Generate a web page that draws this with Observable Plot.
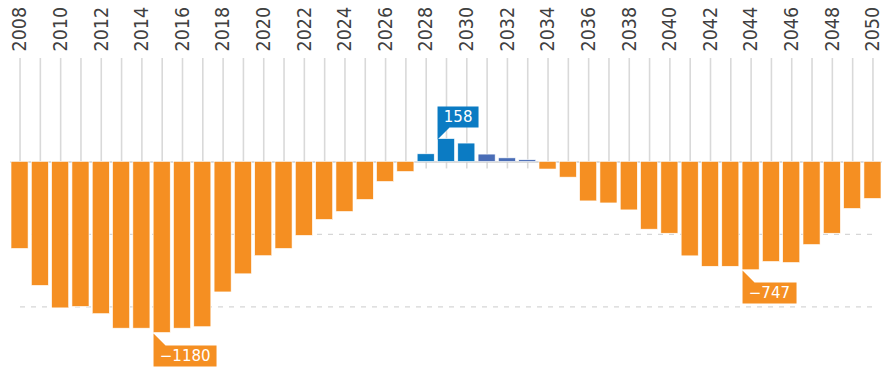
<!DOCTYPE html>
<html>
<head>
<meta charset="utf-8">
<script src="https://cdn.jsdelivr.net/npm/d3@7"></script>
<script src="https://cdn.jsdelivr.net/npm/@observablehq/plot@0.6"></script>
<style>
  body { margin: 0; background: #fff; }
  #chart svg { display: block; }
  g[aria-label="tip"] text, g[aria-label="tip"] tspan { fill: #fff; }
</style>
</head>
<body>
<div id="chart"></div>
<script>
// ---- data ----
const years = [2008, 2009, 2010, 2011, 2012, 2013, 2014, 2015, 2016, 2017,
  2018, 2019, 2020, 2021, 2022, 2023, 2024, 2025, 2026, 2027,
  2028, 2029, 2030, 2031, 2032, 2033, 2034, 2035, 2036, 2037,
  2038, 2039, 2040, 2041, 2042, 2043, 2044, 2045, 2046, 2047,
  2048, 2049, 2050];
const values = [-600, -855, -1010, -1000, -1050, -1150, -1150, -1180, -1150, -1140,
  -900, -775, -650, -600, -510, -400, -345, -262, -138, -69,
  53, 158, 127, 51, 25, 12, -52, -108, -272, -286,
  -334, -467, -495, -651, -723, -723, -747, -690, -697, -573,
  -495, -324, -255];
const kinds = ["deficit", "deficit", "deficit", "deficit", "deficit", "deficit", "deficit", "deficit", "deficit", "deficit",
  "deficit", "deficit", "deficit", "deficit", "deficit", "deficit", "deficit", "deficit", "deficit", "deficit",
  "surplus", "surplus", "surplus", "surplus2", "surplus2", "surplus2", "deficit", "deficit", "deficit", "deficit",
  "deficit", "deficit", "deficit", "deficit", "deficit", "deficit", "deficit", "deficit", "deficit", "deficit",
  "deficit", "deficit", "deficit"];
const tickYears = [2008, 2010, 2012, 2014, 2016, 2018, 2020, 2022, 2024, 2026, 2028,
  2030, 2032, 2034, 2036, 2038, 2040, 2042, 2044, 2046, 2048, 2050];
const guideValues = [-500, -1000];
const calloutYears = [2015, 2029, 2044];

// ---- table built from the arrays ----
const rows = years.map((year, i) => ({year, value: values[i], kind: kinds[i]}));
const callouts = rows.filter(d => calloutYears.includes(d.year));
const label = d => "\u00A0" + (d.value < 0 ? "\u2212" + Math.abs(d.value) : String(d.value)) + "\u00A0";

const ORANGE = "#f58f22", BLUE = "#0b7bc3", SLATE = "#4a6db6";

const tipCommon = {
  x: "year", y: "value", title: label,
  stroke: "none", pathFilter: "none",
  textPadding: 1.5, fontSize: 15, fontFamily: "DejaVu Sans",
  dx: -8.5
};

const chart = Plot.plot({
  width: 882,
  height: 376,
  marginTop: 58,
  marginBottom: 0,
  marginLeft: 10,
  marginRight: 0,
  style: {fontFamily: "'Liberation Sans Narrow', 'Arial Narrow', 'DejaVu Sans Condensed', sans-serif", background: "#fff"},
  x: {type: "band", domain: years, paddingInner: 0.16, paddingOuter: 0.05, round: false, axis: null},
  y: {domain: [-1480, 714], axis: null},
  color: {domain: ["deficit", "surplus", "surplus2"], range: [ORANGE, BLUE, SLATE]},
  marks: [
    Plot.ruleX(years, {x: d => d, y1: 714, y2: -48, stroke: "#d9d9d9", strokeWidth: 1.6}),
    Plot.ruleY([0], {stroke: "#d0d0d0", strokeWidth: 1.5}),
    Plot.ruleY(guideValues, {stroke: "#d6d6d6", strokeWidth: 1.3, strokeDasharray: "5,6", insetLeft: 10, insetRight: 9}),
    Plot.barY(rows, {x: "year", y: "value", fill: "kind", stroke: "#fff", strokeWidth: 0.6}),
    Plot.tip(callouts.filter(d => d.value < 0), {...tipCommon, anchor: "top-left", fill: ORANGE}),
    Plot.tip(callouts.filter(d => d.value > 0), {...tipCommon, anchor: "bottom-left", fill: BLUE}),
    Plot.axisX({anchor: "top", ticks: tickYears, tickFormat: d => String(d), tickSize: 0, tickPadding: 7, tickRotate: -90,
      fontSize: 19.5, color: "#404040", label: null})
  ]
});
document.getElementById("chart").append(chart);
</script>
</body>
</html>
